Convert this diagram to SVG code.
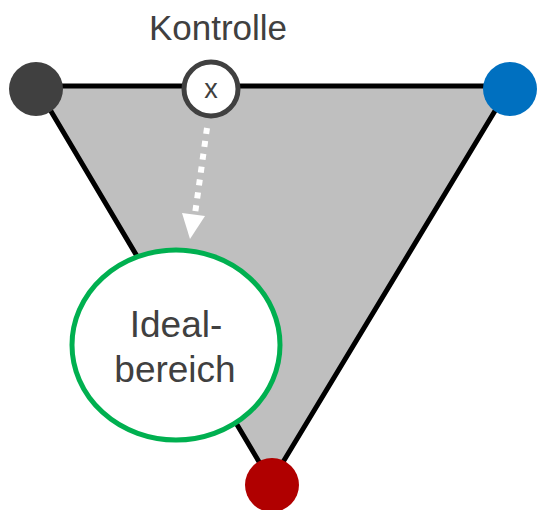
<svg xmlns="http://www.w3.org/2000/svg" width="537" height="510" viewBox="0 0 537 510">
<style>
.lbl{font-family:"Liberation Sans",Arial,sans-serif;fill:#404040;text-anchor:middle}
.vtx{stroke:none}
</style>
<g id="triangle">
<polygon points="36,86 510,86 271,482" fill="#BFBFBF" stroke="#000" stroke-width="5" stroke-linejoin="miter"/>
</g>
<g id="connectors">
<line x1="207" y1="128" x2="195" y2="214" stroke="#fff" stroke-width="6" stroke-dasharray="6,7"/>
<polygon points="182,213 205,216 190,239" fill="#fff"/>
</g>
<g id="vertex-dark"><circle class="vtx" cx="36" cy="89" r="27" fill="#404040"/></g>
<g id="vertex-blue"><circle class="vtx" cx="510" cy="89" r="27" fill="#0070C0"/></g>
<g id="vertex-red"><circle class="vtx" cx="272" cy="485" r="27" fill="#B00000"/></g>
<g id="kontrolle">
<text class="lbl" x="218" y="40" font-size="35">Kontrolle</text>
<circle cx="211" cy="89" r="27" fill="#fff" stroke="#404040" stroke-width="5"/>
<text class="lbl" x="211" y="98" font-size="27">x</text>
</g>
<g id="idealbereich">
<ellipse cx="176" cy="345" rx="104" ry="95" fill="#fff" stroke="#00B050" stroke-width="5"/>
<text class="lbl" x="176" y="337" font-size="37">Ideal-</text>
<text class="lbl" x="175" y="382" font-size="37">bereich</text>
</g>
</svg>
